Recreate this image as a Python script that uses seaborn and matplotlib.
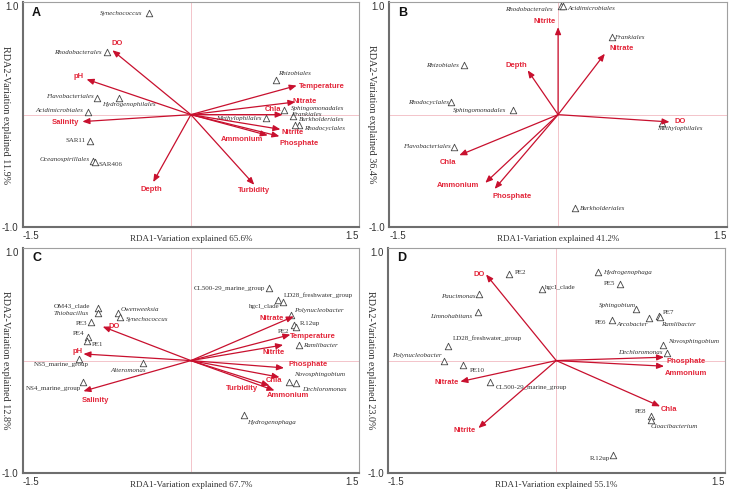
import pandas as pd
import seaborn as sns
import matplotlib.pyplot as plt

# ---- panel A ----
a_var = [65.6, 11.9]
a_env = ["DO", "pH", "Salinity", "Depth", "Turbidity", "Temperature",
         "Nitrate", "Chla", "Nitrite", "Ammonium", "Phosphate"]
a_env_x = [-0.70, -0.93, -0.967, -0.336, 0.565, 0.943, 0.932, 0.818, 0.798, 0.685, 0.789]
a_env_y = [0.574, 0.315, -0.062, -0.601, -0.625, 0.259, 0.113, 0.0, -0.131, -0.185, -0.193]
a_sp = ["Synechococcus", "Rhodobacterales", "Rhizobiales", "Flavobacteriales",
        "Hydrogenophilales", "Acidimicrobiales", "Sphingomonadales", "Frankiales",
        "Methylophilales", "Burkholderiales", "Rhodocyclales", "SAR11",
        "Oceanospirillales", "SAR406"]
a_sp_x = [-0.375, -0.744, 0.759, -0.833, -0.64, -0.917, 0.833, 0.911, 0.67, 0.967, 0.929,
          -0.899, -0.869, -0.857]
a_sp_y = [0.902, 0.554, 0.307, 0.152, 0.152, 0.021, 0.045, -0.009, -0.03, -0.089, -0.089,
          -0.232, -0.417, -0.42]

# ---- panel B ----
b_var = [41.2, 36.4]
b_env = ["Nitrite", "Nitrate", "Depth", "DO", "Chla", "Ammonium", "Phosphate"]
b_env_x = [0.0, 0.415, -0.27, 0.989, -0.877, -0.646, -0.563]
b_env_y = [0.78, 0.543, 0.395, -0.065, -0.362, -0.608, -0.662]
b_sp = ["Rhodobacterales", "Acidimicrobiales", "Frankiales", "Rhizobiales",
        "Rhodocyclales", "Sphingomonadales", "Methylophilales", "Flavobacteriales",
        "Burkholderiales"]
b_sp_x = [0.024, 0.041, 0.48, -0.835, -0.948, -0.40, 0.924, -0.921, 0.148]
b_sp_y = [0.970, 0.970, 0.69, 0.442, 0.11, 0.039, -0.071, -0.288, -0.834]

# ---- panel C ----
c_var = [67.7, 12.8]
c_env = ["DO", "pH", "Salinity", "Nitrate", "Temperature", "Nitrite",
         "Phosphate", "Chla", "Turbidity", "Ammonium"]
c_env_x = [-0.786, -0.958, -0.958, 0.917, 0.887, 0.822, 0.83, 0.79, 0.70, 0.745]
c_env_y = [0.302, 0.059, -0.272, 0.393, 0.231, 0.139, -0.065, -0.148, -0.222, -0.266]
c_sp = ["CL500-29_marine_group", "LD28_freshwater_group", "hgcI_clade",
        "Polynucleobacter", "R.12up", "PE2", "Ramlibacter", "Novosphingobium",
        "Dechloromonas", "Hydrogenophaga", "OM43_clade", "Thiobacillus",
        "Owenweeksia", "Synechococcus", "PE3", "PE4", "PE1", "NS5_marine_group",
        "Alteromonas", "NS4_marine_group"]
c_sp_x = [0.697, 0.777, 0.825, 0.89, 0.917, 0.94, 0.961, 0.875, 0.94, 0.475,
          -0.825, -0.825, -0.647, -0.632, -0.887, -0.914, -0.929, -0.994, -0.424, -0.958]
c_sp_y = [0.642, 0.541, 0.518, 0.405, 0.32, 0.296, 0.139, -0.189, -0.201, -0.488,
          0.47, 0.42, 0.423, 0.39, 0.34, 0.213, 0.178, 0.018, -0.024, -0.192]

# ---- panel D ----
d_var = [55.1, 23.0]
d_env = ["DO", "Phosphate", "Ammonium", "Chla", "Nitrate", "Nitrite"]
d_env_x = [-0.626, 0.961, 0.961, 0.926, -0.855, -0.694]
d_env_y = [0.766, 0.03, -0.05, -0.407, -0.187, -0.60]
d_sp = ["PE2", "Hydrogenophaga", "PE5", "hgcI_clade", "Paucimonas", "Limnohabitans",
        "Sphingobium", "PE7", "Ramlibacter", "PE6", "Arcobacter",
        "LD28_freshwater_group", "Novosphingobium", "Dechloromonas", "Polynucleobacter",
        "PE10", "CL500-29_marine_group", "PE8", "Cloacibacterium", "R.12up"]
d_sp_x = [-0.424, 0.374, 0.57, -0.131, -0.685, -0.70, 0.709, 0.917, 0.923, 0.501, 0.831,
          -0.964, 0.955, 0.991, -1.003, -0.828, -0.59, 0.849, 0.843, 0.51]
d_sp_y = [0.774, 0.792, 0.677, 0.641, 0.596, 0.433, 0.463, 0.395, 0.386, 0.365, 0.377,
          0.134, 0.142, 0.065, 0.0, -0.042, -0.193, -0.49, -0.525, -0.843]

# label offsets (pixels, from arrow tip / triangle)
a_env_off = [(5, 7), (-8, 3), (-17, -1), (-2, -7), (0, -6), (25, -1), (9, 0),
             (-10, 5), (12, -3), (-26, -4), (20, -7)]
a_sp_off = [(-28, 0), (-30, 0), (18, 7), (-28, 1), (10, -7), (-29, 2), (33, 1), (13, 1),
            (-27, 0), (22, 5), (29, -4), (-14, 0), (-29, 2), (16, -3)]
b_env_off = [(-13, 6), (17, 5), (-11, 5), (11, 0), (-11, -7), (-27, -3), (17, -8)]
b_sp_off = [(-32, -4), (29, -3), (17, 0), (-22, 0), (-23, 0), (-33, 0), (18, -6),
            (-27, 0), (28, 0)]
c_env_off = [(11, 0), (-6, 2), (12, -9), (-22, -2), (22, -2), (-9, -8), (24, 3),
             (-6, -3), (-27, -3), (14, -5)]
c_sp_off = [(-40, 0), (40, 5), (-19, -4), (28, 5), (16, 1), (-13, -4), (22, -1),
            (30, 7), (28, -6), (27, -7), (-26, 2), (-27, 0), (22, 4), (27, -3),
            (-10, -1), (-10, 3), (11, -4), (-18, -6), (-15, -7), (-30, -6)]
d_env_off = [(-7, 0), (22, -4), (22, -7), (9, -3), (-14, -1), (-14, -2)]
d_sp_off = [(12, 1), (29, -1), (-11, 1), (19, 1), (-21, -3), (-27, -5), (-18, 3),
            (9, 4), (19, -7), (-12, -3), (-17, -6), (39, 7), (30, 3), (-27, 1),
            (-27, 5), (14, -5), (41, -5), (-11, 4), (23, -7), (-14, -3)]

upright = {"SAR11", "SAR406", "OM43_clade", "PE1", "PE2", "PE3", "PE4", "PE5", "PE6",
           "PE7", "PE8", "PE10", "NS5_marine_group", "NS4_marine_group",
           "CL500-29_marine_group", "LD28_freshwater_group", "hgcI_clade", "R.12up"}

sns.set_style("white")
plt.rcParams["font.family"] = ["Liberation Sans", "DejaVu Sans"]

ARROW = "#c8102e"
ENVTXT = "#e3263a"
SERIF = "Liberation Serif"


def panel(ax, letter, var, env, ex, ey, env_off, sp, sx, sy, sp_off):
    ax.axhline(0, color="#f3c4ca", lw=0.7, zorder=0)
    ax.axvline(0, color="#f3c4ca", lw=0.7, zorder=0)
    df = pd.DataFrame({"x": sx, "y": sy, "name": sp})
    sns.scatterplot(data=df, x="x", y="y", marker="^", s=22, facecolor="white",
                    edgecolor="#444444", linewidth=0.6, ax=ax, zorder=3)
    for name, x, y, off in zip(sp, sx, sy, sp_off):
        ax.annotate(name, (x, y), xytext=off, textcoords="offset pixels",
                    ha="center", va="center", fontsize=5, family=SERIF,
                    style="normal" if name in upright else "italic", color="#333333")
    for name, x, y, off in zip(env, ex, ey, env_off):
        ax.annotate("", xy=(x, y), xytext=(0, 0),
                    arrowprops=dict(arrowstyle="-|>,head_length=0.6,head_width=0.25",
                                    color=ARROW, lw=0.9, mutation_scale=7,
                                    shrinkA=0, shrinkB=0), zorder=4)
        ax.annotate(name, (x, y), xytext=off, textcoords="offset pixels",
                    ha="center", va="center", fontsize=5.5, fontweight="bold",
                    color=ENVTXT, zorder=5)
    ax.set_xlim(-1.5, 1.5)
    ax.set_ylim(-1.0, 1.0)
    ax.set_xticks([-1.5, -1.0, -0.5, 0, 0.5, 1.0, 1.5])
    ax.set_xticklabels(["-1.5", "", "", "", "", "", "1.5"])
    ax.set_yticks([-1.0, -0.5, 0, 0.5, 1.0])
    ax.set_yticklabels(["-1.0", "", "", "", "1.0"])
    xl = ax.get_xticklabels()
    xl[0].set_ha("left")
    xl[-1].set_ha("right")
    ax.get_yticklabels()[-1].set_va("top")
    ax.tick_params(direction="inout", length=4, width=0.8, labelsize=7, pad=1,
                   colors="#333333")
    ax.set_xlabel("RDA1-Variation explained %.1f%%" % var[0], family=SERIF,
                  fontsize=6.5, color="#333333")
    ax.xaxis.set_label_coords(0.5, -0.035)
    ax.set_ylabel("RDA2-Variation explained %.1f%%" % var[1], family=SERIF,
                  fontsize=7.3, rotation=270, va="center", color="#333333")
    ax.yaxis.set_label_coords(-0.052, 0.5)
    for side in ["left", "bottom"]:
        ax.spines[side].set_color("#6e6e6e")
        ax.spines[side].set_linewidth(1.5)
    for side in ["top", "right"]:
        ax.spines[side].set_color("#a0a0a0")
        ax.spines[side].set_linewidth(0.8)
    ax.text(0.028, 0.955, letter, transform=ax.transAxes, fontsize=9,
            fontweight="bold", ha="left", va="center", color="#111111")


fig = plt.figure(figsize=(7.3, 4.92), dpi=100)
axA = fig.add_axes([0.031, 0.539, 0.461, 0.456])
axB = fig.add_axes([0.533, 0.539, 0.463, 0.456])
axC = fig.add_axes([0.031, 0.0386, 0.461, 0.457])
axD = fig.add_axes([0.5315, 0.0386, 0.461, 0.457])

panel(axA, "A", a_var, a_env, a_env_x, a_env_y, a_env_off, a_sp, a_sp_x, a_sp_y, a_sp_off)
panel(axB, "B", b_var, b_env, b_env_x, b_env_y, b_env_off, b_sp, b_sp_x, b_sp_y, b_sp_off)
panel(axC, "C", c_var, c_env, c_env_x, c_env_y, c_env_off, c_sp, c_sp_x, c_sp_y, c_sp_off)
panel(axD, "D", d_var, d_env, d_env_x, d_env_y, d_env_off, d_sp, d_sp_x, d_sp_y, d_sp_off)

fig.savefig("out.png", dpi=100)
